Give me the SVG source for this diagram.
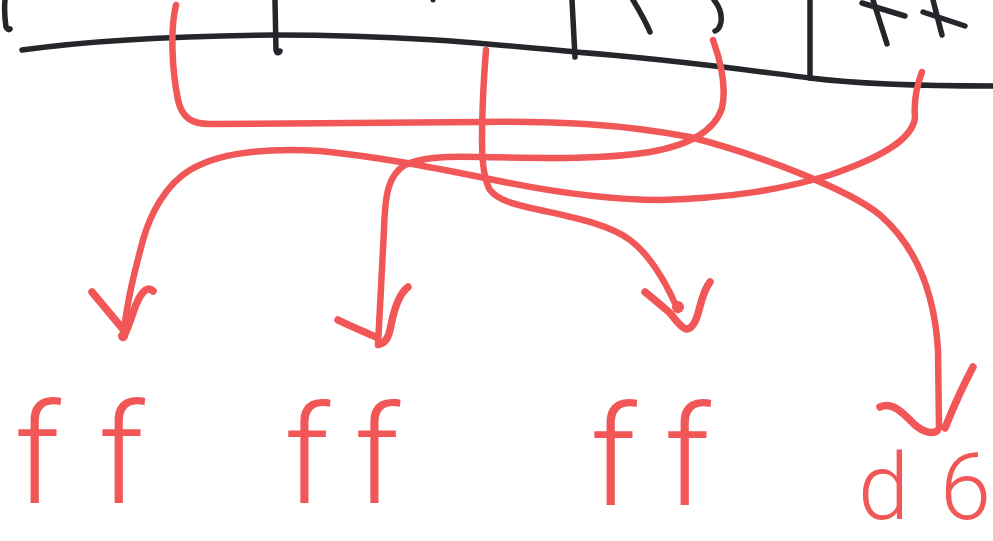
<svg xmlns="http://www.w3.org/2000/svg" width="993" height="541" viewBox="0 0 993 541">
<style>
.ink{fill:none;stroke:#25262b;stroke-width:5.5;stroke-linecap:round;stroke-linejoin:round}
.red{fill:none;stroke:#f25757;stroke-width:6.5;stroke-linecap:round;stroke-linejoin:round}
.head{fill:none;stroke:#f25757;stroke-width:7.5;stroke-linecap:round;stroke-linejoin:round}
.lbl{fill:#f25757;font-family:Roboto,"Liberation Sans",sans-serif;font-weight:300}
</style>
<rect width="993" height="541" fill="#ffffff"/>
<g id="bar">
  <path class="ink" d="M22,50 C80,42 150,36 275,35 C400,35 480,43 575,52 C680,60 760,72 810,78 C850,83 900,86 993,86"/>
  <path class="ink" d="M275,0 L276,50 C277,54 279,53 280,51"/>
  <path class="ink" d="M572,0 L575,57"/>
  <path class="ink" d="M810,0 L810,78"/>
  <path class="ink" d="M5,0 C4,10 5,20 6,27 C7,30 9,30 10,29"/>
  <path class="ink" d="M633,0 C639,10 645,20 650,32"/>
  <path class="ink" d="M714,0 C719,6 722,14 721,22 C720,27 718,30 715,31"/>
  <path class="ink" d="M862,3 L905,16 M873,0 L887,44 M923,12 L965,26 M933,0 L942,35"/>
  <circle cx="433" cy="0" r="2.5" fill="#25262b"/>
</g>
<g id="connectors">
  <path class="red" d="M176,5 C170,30 172,70 178,100 C182,118 192,124 210,124 L480,122 C560,121 620,124 690,137 C760,155 850,190 880,215 C920,250 935,300 938,350 L939,428"/>
  <path class="head" d="M880,407 C893,401 904,414 915,425 C925,433 932,434 937,431 M973,367 C965,382 955,403 945,428"/>
  <path class="red" d="M713,40 C722,65 726,90 722,108 C715,130 690,145 650,152 C600,160 540,158 480,157 C440,156 420,158 405,165 C388,175 385,195 384,230 L378,345"/>
  <path class="head" d="M338,320 C352,327 365,332 376,337 M408,287 C400,293 395,305 391,325 C389,337 386,342 380,344"/>
  <path class="red" d="M922,72 C915,90 914,105 915,118 C912,140 880,158 830,175 C780,190 730,198 660,200 C600,200 540,190 480,177 C430,167 380,157 320,151 C270,148 220,152 190,170 C165,185 150,215 143,240 C135,270 127,300 123,338"/>
  <path class="head" d="M92,292 L122,328 M153,291 C146,284 139,296 134,310 C130,322 127,330 124,336"/>
  <path class="red" d="M486,50 C484,75 482,110 482,140 C482,165 484,180 490,190 C498,200 512,204 540,210 C580,219 610,225 630,240 C650,255 665,280 678,310"/>
  <path class="head" d="M645,292 C655,300 663,307 670,313 C676,320 680,327 686,329 C692,329 696,322 699,310 C702,298 705,288 710,282"/>
  <circle cx="678" cy="307" r="6" fill="#f25757"/>
  <circle cx="123" cy="336" r="5" fill="#f25757"/>
</g>
<g id="ff-1"><text class="lbl" x="14 98" y="503" font-size="140">ff</text></g>
<g id="ff-2"><text class="lbl" x="284 354" y="503" font-size="138">ff</text></g>
<g id="ff-3"><text class="lbl" x="590 664" y="505" font-size="140">ff</text></g>
<g id="d6"><text class="lbl" x="858 940" y="519" font-size="92">d6</text></g>
</svg>
